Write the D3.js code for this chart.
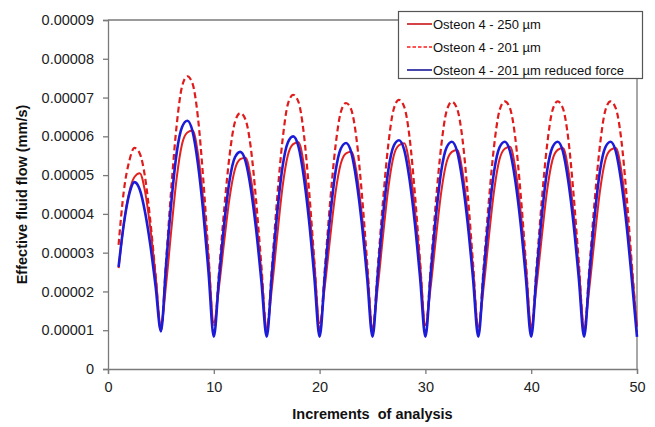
<!DOCTYPE html>
<html>
<head>
<meta charset="utf-8">
<script src="https://cdn.jsdelivr.net/npm/d3@7/dist/d3.min.js"></script>
<style>
  html, body { margin: 0; padding: 0; background: #fff; }
  svg { display: block; font-family: "Liberation Sans", Arial, sans-serif; }
</style>
</head>
<body>
<svg id="chart" width="655" height="427"></svg>
<script>
// ---- data (flow values in units of 1e-5 mm/s) ----
const increments = [
  1, 1.5, 2, 2.5, 3, 3.5, 4, 4.5,
  5, 5.5, 6, 6.5, 7, 7.5, 8, 8.5, 9, 9.5,
  10, 10.5, 11, 11.5, 12, 12.5, 13, 13.5, 14, 14.5,
  15, 15.5, 16, 16.5, 17, 17.5, 18, 18.5, 19, 19.5,
  20, 20.5, 21, 21.5, 22, 22.5, 23, 23.5, 24, 24.5,
  25, 25.5, 26, 26.5, 27, 27.5, 28, 28.5, 29, 29.5,
  30, 30.5, 31, 31.5, 32, 32.5, 33, 33.5, 34, 34.5,
  35, 35.5, 36, 36.5, 37, 37.5, 38, 38.5, 39, 39.5,
  40, 40.5, 41, 41.5, 42, 42.5, 43, 43.5, 44, 44.5,
  45, 45.5, 46, 46.5, 47, 47.5, 48, 48.5, 49, 49.5,
  50
];
const osteon250 = [
  2.6, 3.75, 4.55, 4.95, 5.05, 4.58, 3.63, 2.40,
  1.10, 2.21, 3.63, 4.94, 5.80, 6.10, 6.15, 5.56, 4.37, 2.83,
  1.20, 2.14, 3.33, 4.43, 5.15, 5.41, 5.45, 4.92, 3.87, 2.50,
  1.05, 2.11, 3.45, 4.70, 5.51, 5.80, 5.85, 5.29, 4.17, 2.72,
  1.18, 2.15, 3.39, 4.54, 5.29, 5.56, 5.60, 5.06, 3.97, 2.57,
  1.08, 2.12, 3.45, 4.68, 5.49, 5.77, 5.82, 5.26, 4.13, 2.68,
  1.13, 2.12, 3.39, 4.57, 5.33, 5.60, 5.65, 5.10, 4.00, 2.59,
  1.08, 2.10, 3.41, 4.61, 5.40, 5.68, 5.73, 5.18, 4.07, 2.64,
  1.12, 2.13, 3.41, 4.60, 5.38, 5.65, 5.70, 5.15, 4.04, 2.60,
  1.08, 2.10, 3.39, 4.59, 5.38, 5.65, 5.70, 5.15, 4.04, 2.62,
  1.10
];
const osteon201 = [
  3.2, 4.6, 5.35, 5.7, 5.56, 4.95, 3.82, 2.41,
  1.00, 2.83, 4.73, 6.31, 7.29, 7.55, 7.35, 6.49, 4.91, 2.93,
  0.95, 2.53, 4.17, 5.53, 6.37, 6.60, 6.43, 5.70, 4.34, 2.65,
  0.95, 2.66, 4.44, 5.91, 6.83, 7.07, 6.89, 6.09, 4.62, 2.79,
  0.95, 2.60, 4.32, 5.74, 6.62, 6.86, 6.68, 5.91, 4.50, 2.72,
  0.95, 2.63, 4.36, 5.80, 6.70, 6.94, 6.76, 5.98, 4.54, 2.75,
  0.95, 2.61, 4.34, 5.76, 6.65, 6.89, 6.71, 5.94, 4.51, 2.73,
  0.95, 2.62, 4.34, 5.77, 6.66, 6.90, 6.72, 5.95, 4.52, 2.74,
  0.95, 2.62, 4.34, 5.77, 6.66, 6.90, 6.72, 5.95, 4.52, 2.74,
  0.95, 2.62, 4.34, 5.77, 6.66, 6.90, 6.72, 5.95, 4.52, 2.74,
  0.95
];
const osteon201Reduced = [
  2.63, 3.75, 4.5, 4.82, 4.63, 4.05, 3.20, 2.13,
  0.97, 2.71, 4.34, 5.59, 6.24, 6.40, 6.12, 5.29, 4.06, 2.50,
  0.83, 2.36, 3.79, 4.88, 5.46, 5.60, 5.36, 4.65, 3.60, 2.26,
  0.83, 2.48, 4.04, 5.22, 5.84, 6.00, 5.74, 4.97, 3.83, 2.38,
  0.83, 2.43, 3.93, 5.08, 5.68, 5.83, 5.58, 4.83, 3.73, 2.33,
  0.83, 2.45, 3.97, 5.14, 5.75, 5.90, 5.65, 4.89, 3.77, 2.35,
  0.83, 2.44, 3.95, 5.11, 5.71, 5.86, 5.61, 4.85, 3.75, 2.34,
  0.83, 2.44, 3.95, 5.11, 5.71, 5.86, 5.61, 4.85, 3.75, 2.34,
  0.83, 2.44, 3.95, 5.11, 5.71, 5.86, 5.61, 4.85, 3.75, 2.34,
  0.83, 2.44, 3.95, 5.11, 5.71, 5.86, 5.61, 4.85, 3.75, 2.34,
  0.83
];
const seriesNames = ["Osteon 4 - 250 \u00b5m", "Osteon 4 - 201 \u00b5m", "Osteon 4 - 201 \u00b5m reduced force"];
const xTicks = [0, 10, 20, 30, 40, 50];
const yTicks = [0, 1, 2, 3, 4, 5, 6, 7, 8, 9];
const yTickLabels = ["0", "0.00001", "0.00002", "0.00003", "0.00004", "0.00005", "0.00006", "0.00007", "0.00008", "0.00009"];
const xTitle = "Increments  of analysis";
const yTitle = "Effective fluid flow (mm/s)";

// ---- layout ----
const svg = d3.select("#chart");
const plotLeft = 108, plotRight = 637, plotTop = 20, plotBottom = 369;
const x = d3.scaleLinear().domain([0, 50]).range([plotLeft, plotRight]);
const y = d3.scaleLinear().domain([0, 9]).range([plotBottom, plotTop]);
const axisColor = "#7a7a7a";

// plot frame (top & right)
svg.append("path")
  .attr("d", `M${plotLeft},${plotTop}H${plotRight}V${plotBottom}`)
  .attr("fill", "none").attr("stroke", axisColor).attr("stroke-width", 1.3);

// axes
const xAxis = svg.append("g").attr("transform", `translate(0,${plotBottom})`)
  .call(d3.axisBottom(x).tickValues(xTicks).tickSize(5).tickPadding(8).tickFormat(d3.format("d")));
const yAxis = svg.append("g").attr("transform", `translate(${plotLeft},0)`)
  .call(d3.axisLeft(y).tickValues(yTicks).tickSize(5).tickPadding(9).tickFormat((d, i) => yTickLabels[i]));
[xAxis, yAxis].forEach(g => {
  g.select(".domain").attr("stroke", axisColor).attr("stroke-width", 1.3);
  g.selectAll(".tick line").attr("stroke", axisColor).attr("stroke-width", 1.3);
  g.selectAll(".tick text").attr("fill", "#222").style("font-size", "14.5px")
    .style("font-family", "'Liberation Sans', Arial, sans-serif");
});

// titles
svg.append("text").attr("x", (plotLeft + plotRight) / 2).attr("y", 419)
  .attr("text-anchor", "middle").attr("font-weight", "bold").style("font-size", "14.5px")
  .attr("fill", "#111").style("white-space", "pre").text(xTitle);
svg.append("text").attr("transform", `translate(27,${(plotTop + plotBottom) / 2}) rotate(-90)`)
  .attr("text-anchor", "middle").attr("font-weight", "bold").style("font-size", "14.5px")
  .attr("fill", "#111").text(yTitle);

// lines
const line = (vals) => d3.line()
  .x((d, i) => x(increments[i]))
  .y(d => y(d))
  .curve(d3.curveMonotoneX)(vals);

const styles = [
  { data: osteon250, color: "#e3211f", dash: null, width: 2, legendColor: "#c8141a" },
  { data: osteon201, color: "#e01b1b", dash: "6,3.5", width: 2.2, legendColor: "#ff1a1a" },
  { data: osteon201Reduced, color: "#1c1cd8", dash: null, width: 2.6, legendColor: "#1a1a9a" }
];
styles.forEach(s => {
  svg.append("path").attr("d", line(s.data))
    .attr("fill", "none").attr("stroke", s.color).attr("stroke-width", s.width)
    .attr("stroke-dasharray", s.dash).attr("stroke-linejoin", "round");
});

// legend
const lg = svg.append("g");
lg.append("rect").attr("x", 398.5).attr("y", 11.5).attr("width", 244).attr("height", 67)
  .attr("fill", "#fff").attr("stroke", "#555").attr("stroke-width", 1.2);
seriesNames.forEach((name, i) => {
  const yy = 24 + i * 23;
  lg.append("line").attr("x1", 407).attr("x2", 432).attr("y1", yy).attr("y2", yy)
    .attr("stroke", styles[i].legendColor).attr("stroke-width", 1.6)
    .attr("stroke-dasharray", styles[i].dash ? "3.5,2" : null);
  lg.append("text").attr("x", 433).attr("y", yy + 4.5).style("font-size", "13px")
    .attr("fill", "#111").text(name);
});
</script>
</body>
</html>
